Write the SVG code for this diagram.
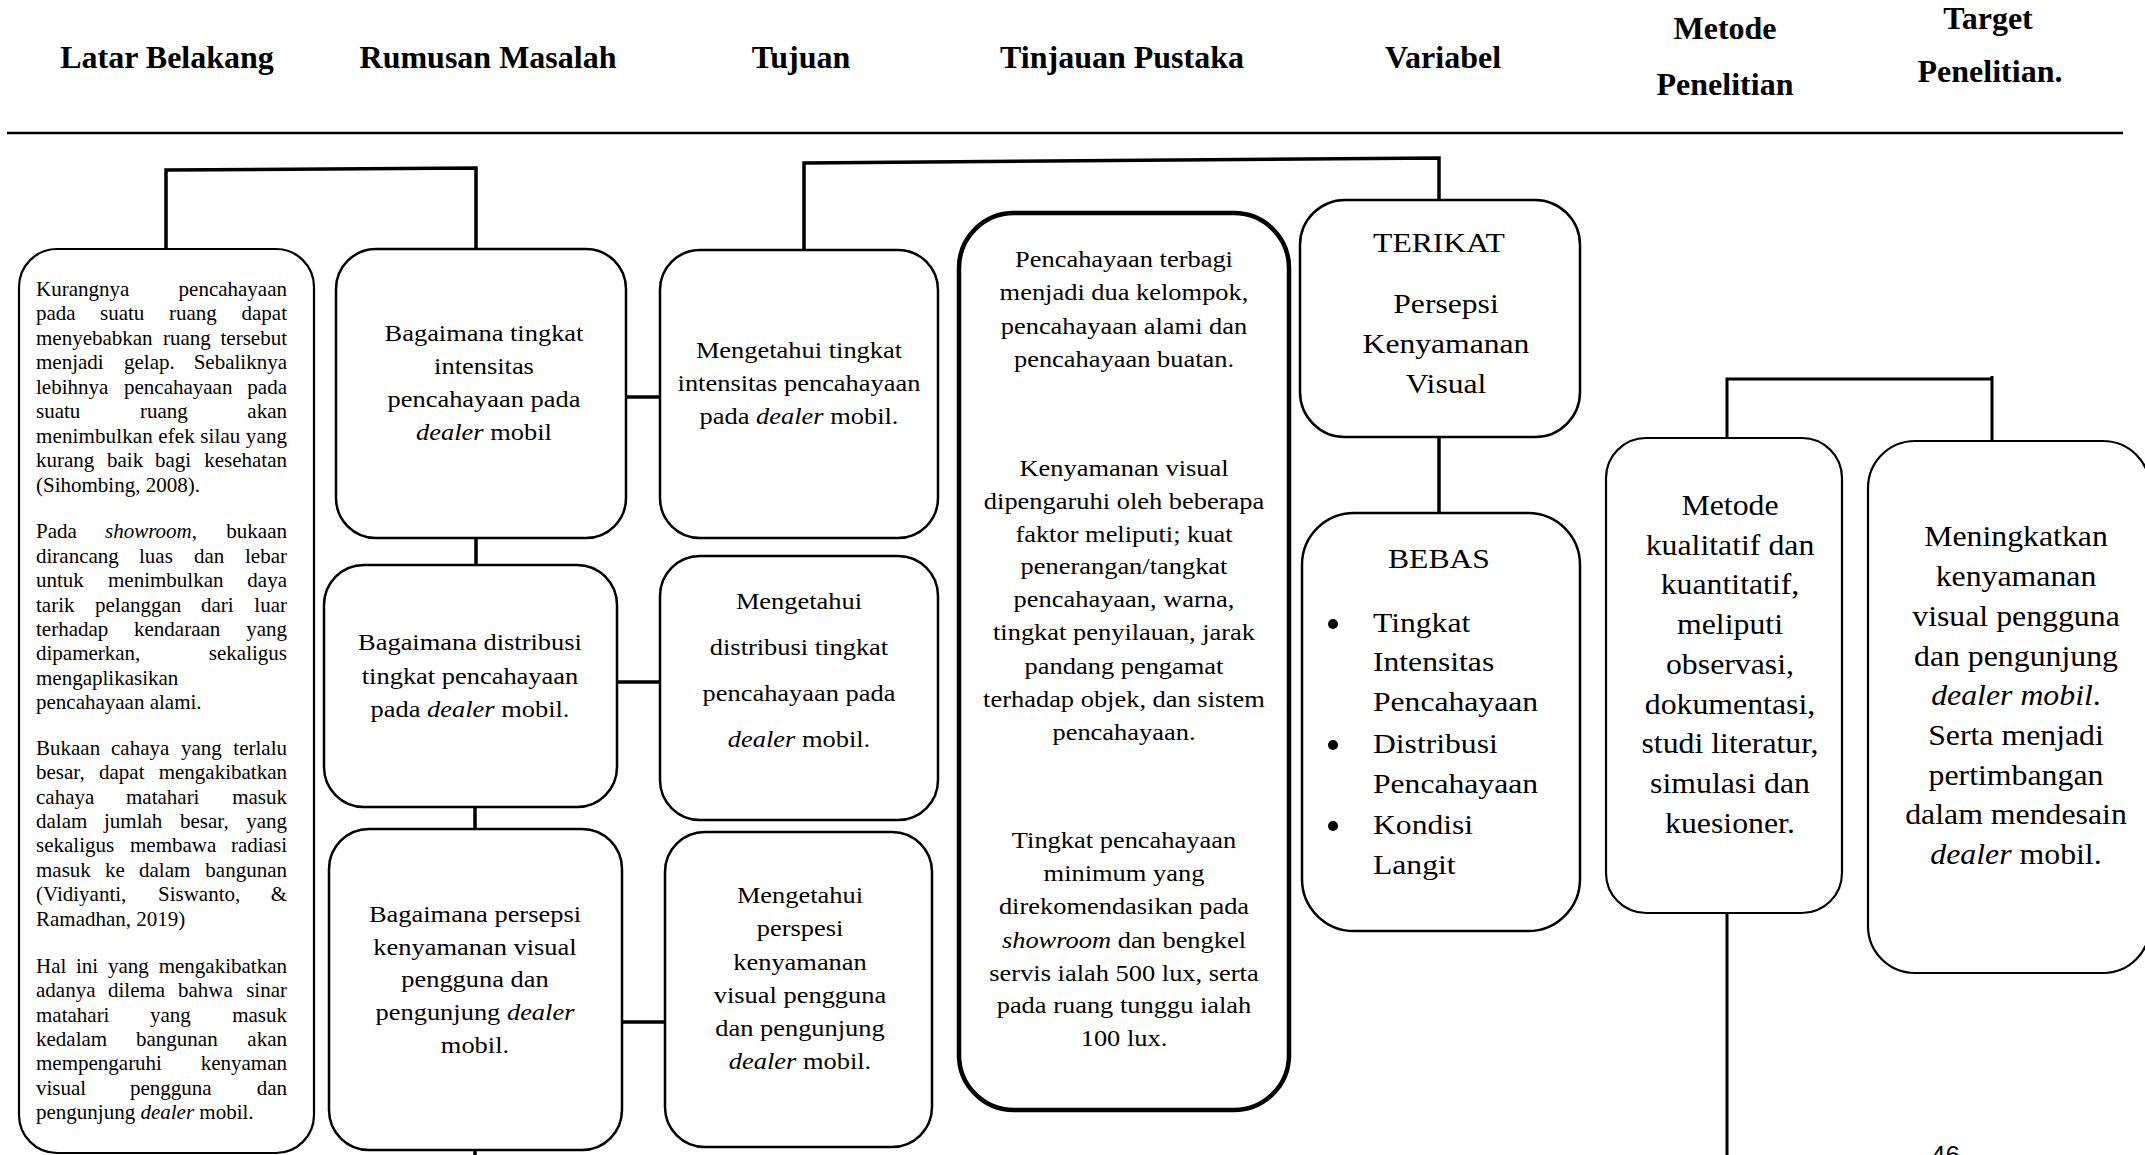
<svg xmlns="http://www.w3.org/2000/svg" width="2145" height="1155" viewBox="0 0 2145 1155">
<style>
.box{fill:#fff;stroke:#000;stroke-width:2.5}
.thin{stroke-width:2.2}
.thick{stroke-width:4.5}
.conn{fill:none;stroke:#000;stroke-width:3.5;stroke-linejoin:miter;stroke-linecap:butt}
text{font-family:"Liberation Serif","Times New Roman",serif;fill:#000}
.hd{font-weight:bold;font-size:32px;text-anchor:middle}
.lb{font-size:21px}
.t1{font-size:23.5px;text-anchor:middle}
.t2{font-size:28px;text-anchor:middle}
.t2l{font-size:28px}
.t3{font-size:30px;text-anchor:middle}
.i{font-style:italic}
.e{text-anchor:end}
</style>
<rect x="0" y="0" width="2145" height="1155" fill="#fff"/>

<g id="header">
<text class="hd" x="167" y="68">Latar Belakang</text>
<text class="hd" x="488" y="68">Rumusan Masalah</text>
<text class="hd" x="801" y="68">Tujuan</text>
<text class="hd" x="1122" y="68">Tinjauan Pustaka</text>
<text class="hd" x="1443" y="68">Variabel</text>
<text class="hd" x="1725" y="39">Metode</text>
<text class="hd" x="1725" y="95">Penelitian</text>
<text class="hd" x="1988" y="29">Target</text>
<text class="hd" x="1990" y="82">Penelitian.</text>
<line x1="7" y1="133" x2="2123" y2="133" stroke="#000" stroke-width="2.7"/>
</g>

<g id="connectors">
<polyline class="conn" points="166,249 166,170 476,168 476,249"/>
<polyline class="conn" points="804,250 804,163 1439,158 1439,200"/>
<line class="conn" x1="476" y1="538" x2="476" y2="565"/>
<line class="conn" x1="475" y1="807" x2="475" y2="829"/>
<line class="conn" x1="475" y1="1150" x2="475" y2="1155"/>
<line class="conn" x1="626" y1="397" x2="660" y2="397"/>
<line class="conn" x1="617" y1="682" x2="660" y2="682"/>
<line class="conn" x1="622" y1="1022" x2="665" y2="1022"/>
<line class="conn" x1="1439" y1="437" x2="1439" y2="513"/>
<polyline class="conn" points="1727,438 1727,379 1992,379" style="stroke-width:3"/>
<line class="conn" x1="1992" y1="376" x2="1992" y2="441" style="stroke-width:3"/>
<line class="conn" x1="1727" y1="913" x2="1727" y2="1155" style="stroke-width:3"/>
</g>

<g id="latar-belakang">
<rect class="box thin" x="19" y="249" width="295" height="904" rx="38"/>
<text class="lb" y="296"><tspan x="36">Kurangnya</tspan><tspan x="287" class="e">pencahayaan</tspan></text>
<text class="lb" y="320"><tspan x="36">pada</tspan><tspan x="100">suatu</tspan><tspan x="169">ruang</tspan><tspan x="287" class="e">dapat</tspan></text>
<text class="lb" y="345"><tspan x="36">menyebabkan</tspan><tspan x="163">ruang</tspan><tspan x="287" class="e">tersebut</tspan></text>
<text class="lb" y="369"><tspan x="36">menjadi</tspan><tspan x="124">gelap.</tspan><tspan x="287" class="e">Sebaliknya</tspan></text>
<text class="lb" y="394"><tspan x="36">lebihnya</tspan><tspan x="124">pencahayaan</tspan><tspan x="287" class="e">pada</tspan></text>
<text class="lb" y="418"><tspan x="36">suatu</tspan><tspan x="140">ruang</tspan><tspan x="287" class="e">akan</tspan></text>
<text class="lb" x="36" y="443" textLength="251" lengthAdjust="spacing">menimbulkan efek silau yang</text>
<text class="lb" y="467"><tspan x="36">kurang</tspan><tspan x="107">baik</tspan><tspan x="155">bagi</tspan><tspan x="287" class="e">kesehatan</tspan></text>
<text class="lb" x="36" y="492">(Sihombing, 2008).</text>

<text class="lb" y="538"><tspan x="36">Pada</tspan><tspan x="105"><tspan class="i">showroom</tspan>,</tspan><tspan x="287" class="e">bukaan</tspan></text>
<text class="lb" y="563"><tspan x="36">dirancang</tspan><tspan x="139">luas</tspan><tspan x="194">dan</tspan><tspan x="287" class="e">lebar</tspan></text>
<text class="lb" y="587"><tspan x="36">untuk</tspan><tspan x="108">menimbulkan</tspan><tspan x="287" class="e">daya</tspan></text>
<text class="lb" y="612"><tspan x="36">tarik</tspan><tspan x="95">pelanggan</tspan><tspan x="201">dari</tspan><tspan x="287" class="e">luar</tspan></text>
<text class="lb" y="636"><tspan x="36">terhadap</tspan><tspan x="134">kendaraan</tspan><tspan x="287" class="e">yang</tspan></text>
<text class="lb" y="660"><tspan x="36">dipamerkan,</tspan><tspan x="287" class="e">sekaligus</tspan></text>
<text class="lb" x="36" y="685">mengaplikasikan</text>
<text class="lb" x="36" y="709">pencahayaan alami.</text>

<text class="lb" y="755"><tspan x="36">Bukaan</tspan><tspan x="111">cahaya</tspan><tspan x="181">yang</tspan><tspan x="287" class="e">terlalu</tspan></text>
<text class="lb" y="779"><tspan x="36">besar,</tspan><tspan x="99">dapat</tspan><tspan x="287" class="e">mengakibatkan</tspan></text>
<text class="lb" y="804"><tspan x="36">cahaya</tspan><tspan x="126">matahari</tspan><tspan x="287" class="e">masuk</tspan></text>
<text class="lb" y="828"><tspan x="36">dalam</tspan><tspan x="104">jumlah</tspan><tspan x="180">besar,</tspan><tspan x="287" class="e">yang</tspan></text>
<text class="lb" y="852"><tspan x="36">sekaligus</tspan><tspan x="130">membawa</tspan><tspan x="287" class="e">radiasi</tspan></text>
<text class="lb" y="877"><tspan x="36">masuk</tspan><tspan x="105">ke</tspan><tspan x="139">dalam</tspan><tspan x="287" class="e">bangunan</tspan></text>
<text class="lb" y="901"><tspan x="36">(Vidiyanti,</tspan><tspan x="158">Siswanto,</tspan><tspan x="287" class="e">&amp;</tspan></text>
<text class="lb" x="36" y="926">Ramadhan, 2019)</text>

<text class="lb" y="973"><tspan x="36">Hal</tspan><tspan x="76">ini</tspan><tspan x="108">yang</tspan><tspan x="287" class="e">mengakibatkan</tspan></text>
<text class="lb" y="997"><tspan x="36">adanya</tspan><tspan x="108">dilema</tspan><tspan x="178">bahwa</tspan><tspan x="287" class="e">sinar</tspan></text>
<text class="lb" y="1022"><tspan x="36">matahari</tspan><tspan x="150">yang</tspan><tspan x="287" class="e">masuk</tspan></text>
<text class="lb" y="1046"><tspan x="36">kedalam</tspan><tspan x="136">bangunan</tspan><tspan x="287" class="e">akan</tspan></text>
<text class="lb" y="1070"><tspan x="36">mempengaruhi</tspan><tspan x="287" class="e">kenyaman</tspan></text>
<text class="lb" y="1095"><tspan x="36">visual</tspan><tspan x="130">pengguna</tspan><tspan x="287" class="e">dan</tspan></text>
<text class="lb" x="36" y="1119">pengunjung <tspan class="i">dealer</tspan> mobil.</text>
</g>

<g id="rumusan-1">
<rect class="box" x="336" y="249" width="290" height="289" rx="40"/>
<g transform="matrix(1.125 0 0 1 -60.5 0)">
<text class="t1" x="484" y="341">Bagaimana tingkat</text>
<text class="t1" x="484" y="374">intensitas</text>
<text class="t1" x="484" y="407">pencahayaan pada</text>
<text class="t1" x="484" y="440"><tspan class="i">dealer</tspan> mobil</text>
</g>
</g>

<g id="rumusan-2">
<rect class="box" x="324" y="565" width="293" height="242" rx="40"/>
<g transform="matrix(1.125 0 0 1 -58.75 0)">
<text class="t1" x="470" y="650">Bagaimana distribusi</text>
<text class="t1" x="470" y="684">tingkat pencahayaan</text>
<text class="t1" x="470" y="717">pada <tspan class="i">dealer</tspan> mobil.</text>
</g>
</g>

<g id="rumusan-3">
<rect class="box" x="329" y="829" width="293" height="321" rx="40"/>
<g transform="matrix(1.125 0 0 1 -59.375 0)">
<text class="t1" x="475" y="922">Bagaimana persepsi</text>
<text class="t1" x="475" y="955">kenyamanan visual</text>
<text class="t1" x="475" y="987">pengguna dan</text>
<text class="t1" x="475" y="1020">pengunjung <tspan class="i">dealer</tspan></text>
<text class="t1" x="475" y="1053">mobil.</text>
</g>
</g>

<g id="tujuan-1">
<rect class="box" x="660" y="250" width="278" height="288" rx="40"/>
<g transform="matrix(1.125 0 0 1 -99.875 0)">
<text class="t1" x="799" y="358">Mengetahui tingkat</text>
<text class="t1" x="799" y="391">intensitas pencahayaan</text>
<text class="t1" x="799" y="424">pada <tspan class="i">dealer</tspan> mobil.</text>
</g>
</g>

<g id="tujuan-2">
<rect class="box" x="660" y="556" width="278" height="264" rx="40"/>
<g transform="matrix(1.125 0 0 1 -99.875 0)">
<text class="t1" x="799" y="609">Mengetahui</text>
<text class="t1" x="799" y="655">distribusi tingkat</text>
<text class="t1" x="799" y="701">pencahayaan pada</text>
<text class="t1" x="799" y="747"><tspan class="i">dealer</tspan> mobil.</text>
</g>
</g>

<g id="tujuan-3">
<rect class="box" x="665" y="832" width="267" height="315" rx="40"/>
<g transform="matrix(1.125 0 0 1 -100 0)">
<text class="t1" x="800" y="903">Mengetahui</text>
<text class="t1" x="800" y="936">perspesi</text>
<text class="t1" x="800" y="970">kenyamanan</text>
<text class="t1" x="800" y="1003">visual pengguna</text>
<text class="t1" x="800" y="1036">dan pengunjung</text>
<text class="t1" x="800" y="1069"><tspan class="i">dealer</tspan> mobil.</text>
</g>
</g>

<g id="tinjauan-pustaka">
<rect class="box thick" x="959" y="213" width="330" height="897" rx="55"/>
<g transform="matrix(1.125 0 0 1 -140.5 0)">
<text class="t1" x="1124" y="267">Pencahayaan terbagi</text>
<text class="t1" x="1124" y="300">menjadi dua kelompok,</text>
<text class="t1" x="1124" y="334">pencahayaan alami dan</text>
<text class="t1" x="1124" y="367">pencahayaan buatan.</text>
<text class="t1" x="1124" y="476">Kenyamanan visual</text>
<text class="t1" x="1124" y="509">dipengaruhi oleh beberapa</text>
<text class="t1" x="1124" y="542">faktor meliputi; kuat</text>
<text class="t1" x="1124" y="574">penerangan/tangkat</text>
<text class="t1" x="1124" y="607">pencahayaan, warna,</text>
<text class="t1" x="1124" y="640">tingkat penyilauan, jarak</text>
<text class="t1" x="1124" y="674">pandang pengamat</text>
<text class="t1" x="1124" y="707">terhadap objek, dan sistem</text>
<text class="t1" x="1124" y="740">pencahayaan.</text>
<text class="t1" x="1124" y="848">Tingkat pencahayaan</text>
<text class="t1" x="1124" y="881">minimum yang</text>
<text class="t1" x="1124" y="914">direkomendasikan pada</text>
<text class="t1" x="1124" y="948"><tspan class="i">showroom</tspan> dan bengkel</text>
<text class="t1" x="1124" y="981">servis ialah 500 lux, serta</text>
<text class="t1" x="1124" y="1013">pada ruang tunggu ialah</text>
<text class="t1" x="1124" y="1046">100 lux.</text>
</g>
</g>

<g id="terikat">
<rect class="box" x="1300" y="200" width="280" height="237" rx="45"/>
<text class="t2" x="1439" y="252" transform="matrix(1.13 0 0 1 -187.07 0)">TERIKAT</text>
<g transform="matrix(1.13 0 0 1 -187.98 0)">
<text class="t2" x="1446" y="313">Persepsi</text>
<text class="t2" x="1446" y="353">Kenyamanan</text>
<text class="t2" x="1446" y="393">Visual</text>
</g>
</g>

<g id="bebas">
<rect class="box" x="1302" y="513" width="278" height="418" rx="52"/>
<text class="t2" x="1439" y="568" transform="matrix(1.13 0 0 1 -187.07 0)">BEBAS</text>
<circle cx="1333" cy="624" r="5"/>
<circle cx="1333" cy="745" r="5"/>
<circle cx="1333" cy="826" r="5"/>
<g transform="matrix(1.13 0 0 1 -178.49 0)">
<text class="t2l" x="1373" y="632">Tingkat</text>
<text class="t2l" x="1373" y="671">Intensitas</text>
<text class="t2l" x="1373" y="711">Pencahayaan</text>
<text class="t2l" x="1373" y="753">Distribusi</text>
<text class="t2l" x="1373" y="793">Pencahayaan</text>
<text class="t2l" x="1373" y="834">Kondisi</text>
<text class="t2l" x="1373" y="874">Langit</text>
</g>
</g>

<g id="metode">
<rect class="box thin" x="1606" y="438" width="236" height="475" rx="40"/>
<g transform="matrix(1.06 0 0 1 -103.8 0)">
<text class="t3" x="1730" y="515">Metode</text>
<text class="t3" x="1730" y="555">kualitatif dan</text>
<text class="t3" x="1730" y="594">kuantitatif,</text>
<text class="t3" x="1730" y="634">meliputi</text>
<text class="t3" x="1730" y="674">observasi,</text>
<text class="t3" x="1730" y="714">dokumentasi,</text>
<text class="t3" x="1730" y="753">studi literatur,</text>
<text class="t3" x="1730" y="793">simulasi dan</text>
<text class="t3" x="1730" y="833">kuesioner.</text>
</g>
</g>

<g id="target">
<rect class="box thin" x="1868" y="441" width="282" height="532" rx="47"/>
<g transform="matrix(1.06 0 0 1 -120.96 0)">
<text class="t3" x="2016" y="546">Meningkatkan</text>
<text class="t3" x="2016" y="586">kenyamanan</text>
<text class="t3" x="2016" y="626">visual pengguna</text>
<text class="t3" x="2016" y="666">dan pengunjung</text>
<text class="t3" x="2016" y="705"><tspan class="i">dealer mobil</tspan>.</text>
<text class="t3" x="2016" y="745">Serta menjadi</text>
<text class="t3" x="2016" y="785">pertimbangan</text>
<text class="t3" x="2016" y="824">dalam mendesain</text>
<text class="t3" x="2016" y="864"><tspan class="i">dealer</tspan> mobil.</text>
</g>
</g>

<text x="1931" y="1164" style="font-family:'Liberation Sans',Arial,sans-serif;font-size:26px">46</text>
</svg>
